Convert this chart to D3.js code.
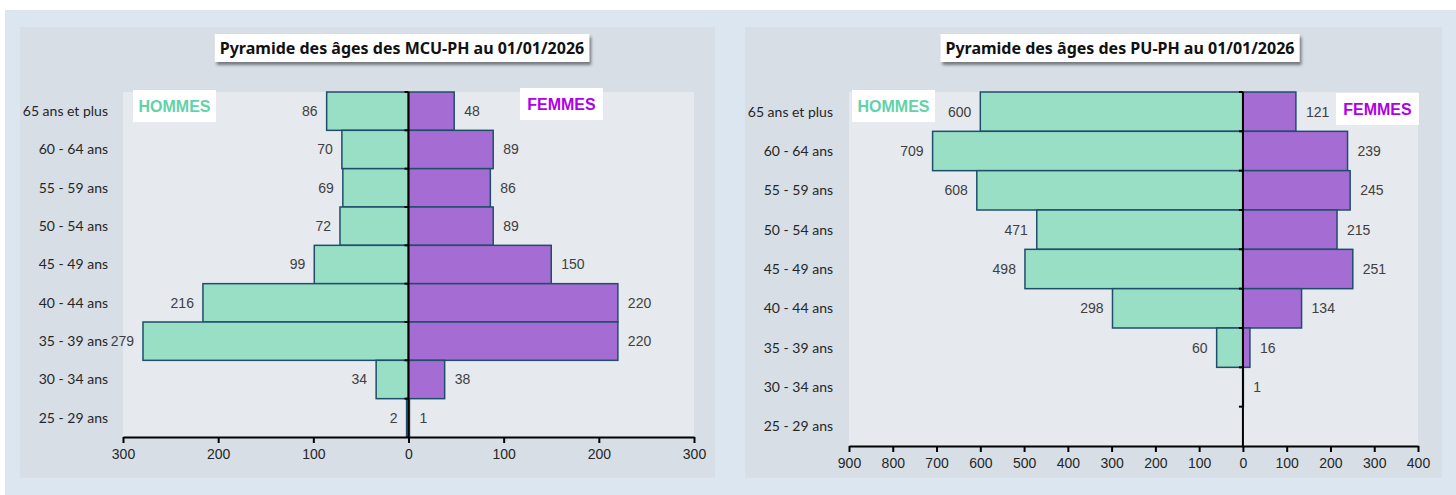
<!DOCTYPE html>
<meta charset="utf-8">
<style>
    body { margin: 0; background: #fff; }
    .cat { font: 14px Lato, sans-serif; fill: #262626; text-anchor: end; }
    .val { font: 14px "Liberation Sans", Arial, sans-serif; fill: #404040; }
    .tick text { font: 14px "Liberation Sans Narrow", "Liberation Sans", sans-serif; fill: #262626; }
    .title { font: bold 16px "Noto Sans", sans-serif; fill: #111; text-anchor: middle; }
    .legend { font: bold 16px "Liberation Sans", Arial, sans-serif; text-anchor: middle; }
</style>
<svg width="1456" height="495"></svg>
<script src="https://cdn.jsdelivr.net/npm/d3@7"></script>
<script>

    var categories = ["65 ans et plus", "60 - 64 ans", "55 - 59 ans", "50 - 54 ans",
        "45 - 49 ans", "40 - 44 ans", "35 - 39 ans", "30 - 34 ans", "25 - 29 ans"];

    var mcuHommes = [86, 70, 69, 72, 99, 216, 279, 34, 2];
    var mcuFemmes = [48, 89, 86, 89, 150, 220, 220, 38, 1];
    var mcuTicks = [-300, -200, -100, 0, 100, 200, 300];

    var puHommes = [600, 709, 608, 471, 498, 298, 60, 0, 0];
    var puFemmes = [121, 239, 245, 215, 251, 134, 16, 1, 0];
    var puTicks = [-900, -800, -700, -600, -500, -400, -300, -200, -100, 0, 100, 200, 300, 400];

    var svg = d3.select("svg");

    svg.append("rect")
        .attr("x", 5).attr("y", 10)
        .attr("width", 1451).attr("height", 485)
        .attr("fill", "#dce6f0");

    var defs = svg.append("defs");
    defs.append("filter")
        .attr("id", "shadow")
        .attr("x", "-10%").attr("y", "-30%")
        .attr("width", "130%").attr("height", "190%")
        .append("feDropShadow")
        .attr("dx", 2).attr("dy", 3)
        .attr("stdDeviation", 1.8)
        .attr("flood-color", "#000")
        .attr("flood-opacity", 0.45);

    function pyramid(cfg, hommes, femmes, ticks) {
        var g = svg.append("g");

        g.append("rect")
            .attr("x", cfg.panel[0]).attr("y", cfg.panel[1])
            .attr("width", cfg.panel[2]).attr("height", cfg.panel[3])
            .attr("fill", "#d7dee6");

        var x = d3.scaleLinear()
            .domain([ticks[0], ticks[ticks.length - 1]])
            .range([cfg.left, cfg.right]);

        var y = d3.scaleBand()
            .domain(categories)
            .range([cfg.top, cfg.bottom])
            .padding(0);

        g.append("rect")
            .attr("x", cfg.left).attr("y", cfg.top)
            .attr("width", cfg.right - cfg.left).attr("height", cfg.bottom - cfg.top)
            .attr("fill", "#e6e9ee");

        var rows = categories.map(function(c, i) {
            return {cat: c, h: hommes[i], f: femmes[i]};
        });

        g.selectAll(".bar-h")
            .data(rows)
            .enter().append("rect")
            .attr("x", function(d) { return x(-d.h); })
            .attr("y", function(d) { return y(d.cat); })
            .attr("width", function(d) { return x(0) - x(-d.h); })
            .attr("height", y.bandwidth())
            .attr("fill", "#98dfc6")
            .attr("stroke", function(d) { return d.h ? "#1f4e6b" : "none"; })
            .attr("stroke-width", 1.5);

        g.selectAll(".bar-f")
            .data(rows)
            .enter().append("rect")
            .attr("x", x(0))
            .attr("y", function(d) { return y(d.cat); })
            .attr("width", function(d) { return x(d.f) - x(0); })
            .attr("height", y.bandwidth())
            .attr("fill", "#a56cd3")
            .attr("stroke", function(d) { return d.f ? "#1f4e6b" : "none"; })
            .attr("stroke-width", 1.5);

        g.selectAll(".val-h")
            .data(rows.filter(function(d) { return d.h > 0; }))
            .enter().append("text")
            .attr("class", "val")
            .attr("text-anchor", "end")
            .attr("x", function(d) { return x(-d.h) - 9; })
            .attr("y", function(d) { return y(d.cat) + y.bandwidth() / 2; })
            .attr("dy", "0.35em")
            .text(function(d) { return d.h; });

        g.selectAll(".val-f")
            .data(rows.filter(function(d) { return d.f > 0; }))
            .enter().append("text")
            .attr("class", "val")
            .attr("x", function(d) { return x(d.f) + 10; })
            .attr("y", function(d) { return y(d.cat) + y.bandwidth() / 2; })
            .attr("dy", "0.35em")
            .text(function(d) { return d.f; });

        // category labels
        g.selectAll(".cat")
            .data(categories)
            .enter().append("text")
            .attr("class", "cat")
            .attr("x", cfg.labelX)
            .attr("y", function(d) { return y(d) + y.bandwidth() / 2; })
            .attr("dy", "0.35em")
            .text(function(d) { return d; });

        // centre line with small marks at band edges
        g.append("line")
            .attr("x1", x(0)).attr("x2", x(0))
            .attr("y1", cfg.top).attr("y2", cfg.bottom)
            .attr("stroke", "#000").attr("stroke-width", 2);

        g.selectAll(".edge")
            .data(categories)
            .enter().append("line")
            .attr("x1", x(0) - 4).attr("x2", x(0))
            .attr("y1", function(d) { return y(d); })
            .attr("y2", function(d) { return y(d); })
            .attr("stroke", "#000").attr("stroke-width", 2);

        var axis = g.append("g")
            .attr("transform", "translate(0," + cfg.bottom + ")")
            .call(d3.axisBottom(x)
                .tickValues(ticks)
                .tickSize(6)
                .tickSizeOuter(0)
                .tickPadding(6)
                .tickFormat(function(d) { return Math.abs(d); }));
        axis.select(".domain").attr("stroke", "#000").attr("stroke-width", 2);
        axis.selectAll(".tick line").attr("stroke", "#000").attr("stroke-width", 2);

        // title
        var title = g.append("text")
            .attr("class", "title")
            .attr("x", cfg.titleX).attr("y", 48)
            .attr("dy", "0.35em")
            .text(cfg.title);
        var bb = title.node().getBBox();
        g.insert("rect", ".title")
            .attr("x", bb.x - 5).attr("y", 34)
            .attr("width", bb.width + 10).attr("height", 28)
            .attr("fill", "#fff")
            .attr("filter", "url(#shadow)");

        // legend boxes
        [["HOMMES", cfg.hommesBox, "#62d2a9"], ["FEMMES", cfg.femmesBox, "#b000e6"]].forEach(function(l) {
            g.append("rect")
                .attr("x", l[1][0]).attr("y", l[1][1])
                .attr("width", 83).attr("height", 32)
                .attr("fill", "#fff");
            g.append("text")
                .attr("class", "legend")
                .attr("x", l[1][0] + 41.5).attr("y", l[1][1] + 16)
                .attr("dy", "0.35em")
                .attr("fill", l[2])
                .text(l[0]);
        });
    }

    pyramid({
        panel: [20, 27, 695, 451],
        left: 123, right: 694, top: 92, bottom: 437,
        labelX: 108, titleX: 402,
        title: "Pyramide des âges des MCU-PH au 01/01/2026",
        hommesBox: [133, 90], femmesBox: [520, 88]
    }, mcuHommes, mcuFemmes, mcuTicks);

    pyramid({
        panel: [745, 27, 697, 451],
        left: 849, right: 1418, top: 92, bottom: 446,
        labelX: 833, titleX: 1120,
        title: "Pyramide des âges des PU-PH au 01/01/2026",
        hommesBox: [852, 90], femmesBox: [1336, 93]
    }, puHommes, puFemmes, puTicks);

</script>
